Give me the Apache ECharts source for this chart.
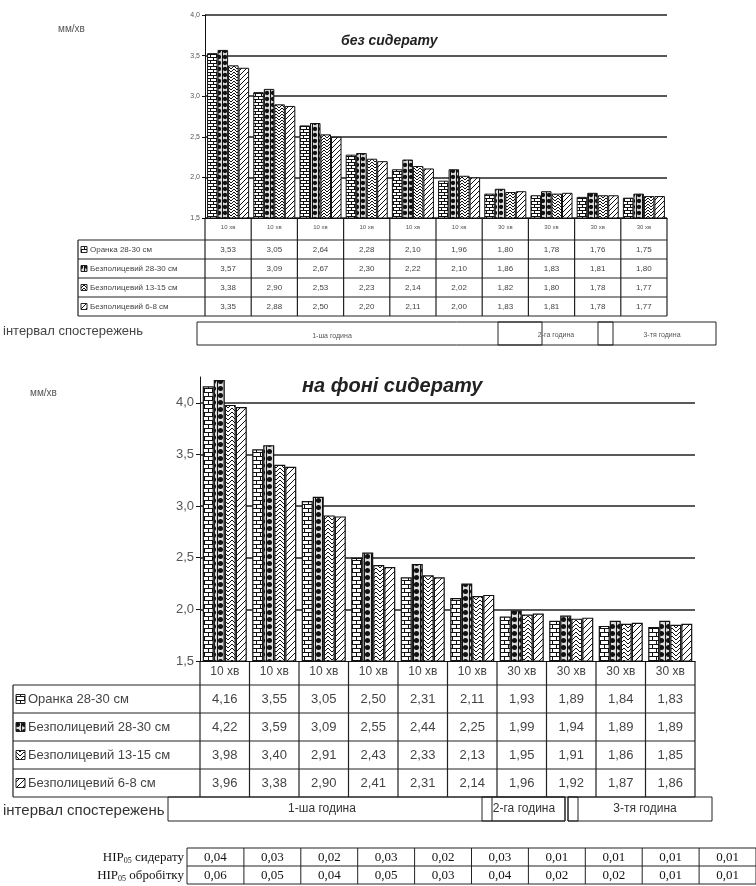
<!DOCTYPE html>
<html>
<head>
<meta charset="utf-8">
<script src="https://cdn.jsdelivr.net/npm/echarts@6/dist/echarts.min.js"></script>
<style>
  html, body { margin: 0; background: #fff; }
  #main { width: 756px; height: 886px; }
</style>
</head>
<body>
<div id="main"></div>
<script>
// дані
var categories = ['10 хв', '10 хв', '10 хв', '10 хв', '10 хв', '10 хв', '30 хв', '30 хв', '30 хв', '30 хв'];
var seriesNames = ['Оранка 28-30 см', 'Безполицевий 28-30 см', 'Безполицевий 13-15 см', 'Безполицевий 6-8 см'];
var gridLevels = [2.0, 2.5, 3.0, 3.5, 4.0];

// без сидерату
var orankaBez   = [3.53, 3.05, 2.64, 2.28, 2.10, 1.96, 1.80, 1.78, 1.76, 1.75];
var bez28Bez    = [3.57, 3.09, 2.67, 2.30, 2.22, 2.10, 1.86, 1.83, 1.81, 1.80];
var bez13Bez    = [3.38, 2.90, 2.53, 2.23, 2.14, 2.02, 1.82, 1.80, 1.78, 1.77];
var bez6Bez     = [3.35, 2.88, 2.50, 2.20, 2.11, 2.00, 1.83, 1.81, 1.78, 1.77];

// на фоні сидерату
var orankaSid   = [4.16, 3.55, 3.05, 2.50, 2.31, 2.11, 1.93, 1.89, 1.84, 1.83];
var bez28Sid    = [4.22, 3.59, 3.09, 2.55, 2.44, 2.25, 1.99, 1.94, 1.89, 1.89];
var bez13Sid    = [3.98, 3.40, 2.91, 2.43, 2.33, 2.13, 1.95, 1.91, 1.86, 1.85];
var bez6Sid     = [3.96, 3.38, 2.90, 2.41, 2.31, 2.14, 1.96, 1.92, 1.87, 1.86];

// НІР05
var hipSiderat  = [0.04, 0.03, 0.02, 0.03, 0.02, 0.03, 0.01, 0.01, 0.01, 0.01];
var hipObrobitk = [0.06, 0.05, 0.04, 0.05, 0.03, 0.04, 0.02, 0.02, 0.01, 0.01];
var hourLabels  = ['1-ша година', '2-га година', '3-тя година'];

var topRows = [orankaBez, bez28Bez, bez13Bez, bez6Bez];
var botRows = [orankaSid, bez28Sid, bez13Sid, bez6Sid];

// штрихування
function makePattern(kind, n) {
  var c = document.createElement('canvas');
  c.width = n; c.height = n;
  var g = c.getContext('2d');
  g.fillStyle = '#fff';
  g.fillRect(0, 0, n, n);
  g.strokeStyle = '#111';
  g.fillStyle = '#111';
  g.lineWidth = 1;
  g.beginPath();
  if (kind === 0) {
    var h = n / 2;
    g.moveTo(0, 0.5); g.lineTo(n, 0.5);
    g.moveTo(0, h + 0.5); g.lineTo(n, h + 0.5);
    g.moveTo(0.5, 0); g.lineTo(0.5, h);
    g.moveTo(h + 0.5, h); g.lineTo(h + 0.5, n);
    g.stroke();
  } else if (kind === 1) {
    g.fillStyle = '#ddd';
    g.fillRect(0, 0, n, n);
    g.fillStyle = '#111';
    g.arc(n / 2, n / 2, n * 0.36, 0, Math.PI * 2);
    g.fill();
    g.beginPath();
    g.moveTo(0.5, 0); g.lineTo(0.5, n);
    g.stroke();
  } else if (kind === 2) {
    g.moveTo(0, 0); g.lineTo(n / 2, n / 2); g.lineTo(n, 0);
    g.moveTo(0, n / 2); g.lineTo(n / 2, n); g.lineTo(n, n / 2);
    g.stroke();
  } else {
    g.moveTo(0, n); g.lineTo(n, 0);
    g.moveTo(-1, 1); g.lineTo(1, -1);
    g.moveTo(n - 1, n + 1); g.lineTo(n + 1, n - 1);
    g.stroke();
  }
  return c;
}
var patBig = [makePattern(0, 8), makePattern(1, 7), makePattern(2, 8), makePattern(3, 6)];
var patSmall = [makePattern(0, 6), makePattern(1, 6), makePattern(2, 6), makePattern(3, 5)];

var comma = function (v, d) { return v.toFixed(d).replace('.', ','); };

var myChart = echarts.init(document.getElementById('main'));

var series = [];
for (var k = 0; k < 4; k++) {
  series.push({
    name: seriesNames[k], type: 'bar', xAxisIndex: 0, yAxisIndex: 0,
    data: topRows[k], barGap: '0%', barCategoryGap: '9%', silent: true,
    itemStyle: { color: { image: patSmall[k], repeat: 'repeat' }, borderColor: '#111', borderWidth: 1 }
  });
}
for (var k = 0; k < 4; k++) {
  var s = {
    name: seriesNames[k] + ' ', type: 'bar', xAxisIndex: 1, yAxisIndex: 1, z: 3,
    data: botRows[k], barGap: '0%', barCategoryGap: '11%', silent: true,
    itemStyle: { color: { image: patBig[k], repeat: 'repeat' }, borderColor: '#111', borderWidth: 1.2 }
  };
  if (k === 0) {
    // лінії сітки нижньої діаграми (без лінії на верхньому краю осі)
    s.markLine = {
      silent: true, symbol: 'none', z: 1, animation: false,
      label: { show: false },
      lineStyle: { color: '#222', width: 1.5, type: 'solid' },
      data: gridLevels.map(function (v) { return { yAxis: v }; })
    };
  }
  series.push(s);
}

var option = {
  animation: false,
  backgroundColor: '#fff',
  textStyle: { fontFamily: 'Liberation Sans' },
  title: [
    { text: 'без сидерату', left: 336, top: 29,
      textStyle: { fontSize: 14, fontWeight: 'bold', fontStyle: 'italic', color: '#222' } },
    { text: 'на фоні сидерату', left: 297, top: 371,
      textStyle: { fontSize: 20, fontWeight: 'bold', fontStyle: 'italic', color: '#222' } }
  ],
  grid: [
    { left: 205, top: 15, width: 462, height: 203 },
    { left: 200, top: 377, width: 495, height: 284 },
    { left: 187, top: 848, width: 580, height: 36 }
  ],
  xAxis: [
    { type: 'category', gridIndex: 0, data: categories,
      axisLine: { lineStyle: { color: '#111' } }, axisTick: { show: false },
      axisLabel: { fontSize: 6, color: '#555', margin: 6 } },
    { type: 'category', gridIndex: 1, data: categories,
      axisLine: { lineStyle: { color: '#111' } }, axisTick: { show: false },
      axisLabel: { fontSize: 12, color: '#444', margin: 5 } },
    { type: 'category', gridIndex: 2, data: hipSiderat.map(function (v, i) { return String(i); }),
      axisLine: { show: false }, axisTick: { show: false }, axisLabel: { show: false } }
  ],
  yAxis: [
    { type: 'value', gridIndex: 0, min: 1.5, max: 4, interval: 0.5,
      axisLine: { show: true, lineStyle: { color: '#111' } },
      axisTick: { show: true, length: 3, lineStyle: { color: '#111' } },
      axisLabel: { fontSize: 7, color: '#555', margin: 5, formatter: function (v) { return comma(v, 1); } },
      splitLine: { lineStyle: { color: '#222', width: 1.5 } } },
    { type: 'value', gridIndex: 1, min: 1.5, max: 4.25, interval: 0.5,
      axisLine: { show: true, lineStyle: { color: '#111' } },
      axisTick: { show: true, length: 4, lineStyle: { color: '#111' } },
      axisLabel: { fontSize: 13, color: '#555', margin: 6, showMaxLabel: false,
        formatter: function (v) { return Math.abs(v * 2 - Math.round(v * 2)) < 1e-6 ? comma(v, 1) : ''; } },
      splitLine: { show: false } },
    { type: 'value', gridIndex: 2, min: 0, max: 1,
      axisLine: { show: false }, axisTick: { show: false }, axisLabel: { show: false }, splitLine: { show: false } }
  ],
  series: series
};
myChart.setOption(option);

// таблиці під діаграмами
var LINE = '#222';
function ln(x1, y1, x2, y2, w) {
  return { type: 'line', silent: true, shape: { x1: x1, y1: y1, x2: x2, y2: y2 }, style: { stroke: LINE, lineWidth: w || 1 } };
}
function txt(t, x, y, font, align, color) {
  return { type: 'text', silent: true, style: { text: t, x: x, y: y, font: font, textAlign: align || 'center', textVerticalAlign: 'middle', fill: color || '#333' } };
}
function box(x, y, w, h, fill) {
  return { type: 'rect', silent: true, shape: { x: x, y: y, width: w, height: h }, style: { fill: fill || 'none', stroke: LINE, lineWidth: 1 } };
}

function dataTable(g, rows, pats, cfg) {
  var els = [];
  var xs = categories.map(function (c, i) { return myChart.convertToPixel({ xAxisIndex: g }, i); });
  var band = xs[1] - xs[0];
  var left = xs[0] - band / 2, right = xs[xs.length - 1] + band / 2;
  var y0 = myChart.convertToPixel({ yAxisIndex: g }, 1.5);
  var yh = y0 + cfg.headH;
  var yb = yh + rows.length * cfg.rowH;
  for (var i = 0; i <= categories.length; i++) els.push(ln(left + i * band, y0, left + i * band, yb, 1.2));
  els.push(ln(cfg.labelLeft, yh, cfg.labelLeft, yb, 1.2));
  for (var r = 0; r <= rows.length; r++) els.push(ln(cfg.labelLeft, yh + r * cfg.rowH, right, yh + r * cfg.rowH, 1.2));
  for (var r = 0; r < rows.length; r++) {
    var cy = yh + r * cfg.rowH + cfg.rowH / 2;
    els.push(box(cfg.labelLeft + 3, cy - cfg.key / 2, cfg.key, cfg.key, { image: pats[r], repeat: 'repeat' }));
    els.push(txt(seriesNames[r], cfg.labelLeft + cfg.key + 6, cy, cfg.font + 'px Liberation Sans', 'left', '#444'));
    for (var i = 0; i < categories.length; i++) {
      els.push(txt(comma(rows[r][i], 2), xs[i], cy, cfg.font + 'px Liberation Sans', 'center', '#444'));
    }
  }
  return els;
}

var g = [];
g = g.concat(dataTable(0, topRows, patSmall, { headH: 22, rowH: 19, labelLeft: 78, font: 8, key: 6 }));
g = g.concat(dataTable(1, botRows, patBig, { headH: 24, rowH: 28, labelLeft: 13, font: 13, key: 9 }));

// одиниці
g.push(txt('мм/хв', 58, 29, '10px Liberation Sans', 'left', '#555'));
g.push(txt('мм/хв', 30, 393, '10px Liberation Sans', 'left', '#555'));

// інтервал спостережень (верх)
g.push(txt('інтервал спостережень', 3, 331, '13px Liberation Sans', 'left', '#444'));
g.push(box(197, 322, 519, 23));
g.push(box(498, 322, 44, 23));
g.push(box(598, 322, 15, 23));
g.push(txt(hourLabels[0], 332, 336, '7px Liberation Sans', 'center', '#555'));
g.push(txt(hourLabels[1], 556, 335, '7px Liberation Sans', 'center', '#555'));
g.push(txt(hourLabels[2], 662, 335, '7px Liberation Sans', 'center', '#555'));

// інтервал спостережень (низ)
g.push(txt('інтервал спостережень', 3, 811, '15px Liberation Sans', 'left', '#333'));
g.push(box(168, 797, 397, 24));
g.push(box(482, 797, 83, 24));
g.push(ln(492, 797, 492, 821, 1));
g.push(box(568, 797, 144, 24));
g.push(box(568, 797, 10, 24));
g.push(txt(hourLabels[0], 322, 809, '12px Liberation Sans', 'center', '#333'));
g.push(txt(hourLabels[1], 524, 809, '12px Liberation Sans', 'center', '#333'));
g.push(txt(hourLabels[2], 645, 809, '12px Liberation Sans', 'center', '#333'));

// НІР05
var hx = hipSiderat.map(function (v, i) { return myChart.convertToPixel({ xAxisIndex: 2 }, i); });
var hb = hx[1] - hx[0];
var hTop = 848, hRow = 18;
for (var i = 0; i <= hx.length; i++) g.push(ln(hx[0] - hb / 2 + i * hb, hTop, hx[0] - hb / 2 + i * hb, hTop + 2 * hRow, 1));
for (var r = 0; r <= 2; r++) g.push(ln(hx[0] - hb / 2, hTop + r * hRow, hx[hx.length - 1] + hb / 2, hTop + r * hRow, 1));
[hipSiderat, hipObrobitk].forEach(function (row, r) {
  row.forEach(function (v, i) {
    g.push(txt(comma(v, 2), hx[i], hTop + r * hRow + hRow / 2 + 1, '13px Liberation Serif', 'center', '#111'));
  });
});
var hipNames = ['сидерату', 'обробітку'];
hipNames.forEach(function (nm, r) {
  g.push({ type: 'text', silent: true, style: {
    text: 'НІР{s|05} ' + nm, x: 184, y: hTop + r * hRow + hRow / 2 + 1,
    textAlign: 'right', textVerticalAlign: 'middle',
    font: '13px Liberation Serif', fill: '#111',
    rich: { s: { fontSize: 8, fontFamily: 'Liberation Serif', verticalAlign: 'bottom', padding: [6, 0, 0, 0] } }
  } });
});

myChart.setOption({ graphic: g });
</script>
</body>
</html>
